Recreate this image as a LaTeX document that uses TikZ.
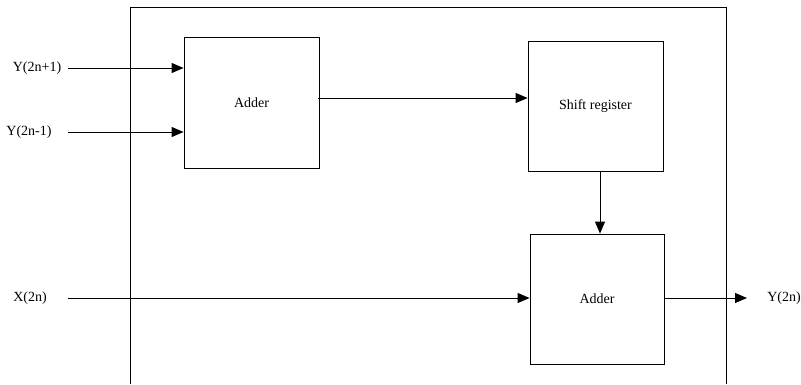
\documentclass[tikz,border=0pt]{standalone}
\usepackage{fontspec}
\setmainfont{Liberation Serif}
\usetikzlibrary{positioning,arrows.meta}
\tikzset{
block/.style={
  draw,
  rectangle,
  line width=0.8pt,
  inner sep=0pt,
  font=\fontsize{14}{16}\selectfont
  },
sig/.style={font=\fontsize{14}{16}\selectfont, inner sep=0pt},
arr/.style={-{Triangle[length=12pt,width=10pt]}, line width=0.9pt},
%frame/.style={draw, line width=0.8pt},
}

\begin{document}
\begin{tikzpicture}[x=1pt,y=-1pt]
    \useasboundingbox (0,0) rectangle (801,384);
    % outer frame, open at the bottom
    \draw [line width=0.8pt] (130,384) -- (130,7) -- (726,7) -- (726,384);

    \node [block, minimum width=135pt, minimum height=131pt] (add1) at (251.5,102.5) {Adder};
    \node [block, minimum width=135pt, minimum height=130pt] (sr) at (595.5,106) {Shift register};
    \node [block, minimum width=134pt, minimum height=130pt] (add2) at (597,299) {Adder};

    \node [sig] (y1) at (37,68) {Y(2n+1)};
    \node [sig] (y2) at (29,132) {Y(2n-1)};
    \node [sig] (x0) at (30,298) {X(2n)};
    \node [sig] (yo) at (784,298) {Y(2n)};

    \coordinate (in1) at (68,68);
    \coordinate (in2) at (68,132);
    \coordinate (in3) at (68,298);
    \coordinate (mid) at (318,98);
    \coordinate (down) at (600,171);
    \coordinate (out) at (747,298);

    \draw [arr] (in1) -- (in1 -| add1.west);
    \draw [arr] (in2) -- (in2 -| add1.west);
    \draw [arr] (mid) -- (mid -| sr.west);
    \draw [arr] (down |- sr.south) -- (down |- add2.north);
    \draw [arr] (in3) -- (in3 -| add2.west);
    \draw [arr] (add2.east |- out) -- (out);

\end{tikzpicture}
\end{document}
